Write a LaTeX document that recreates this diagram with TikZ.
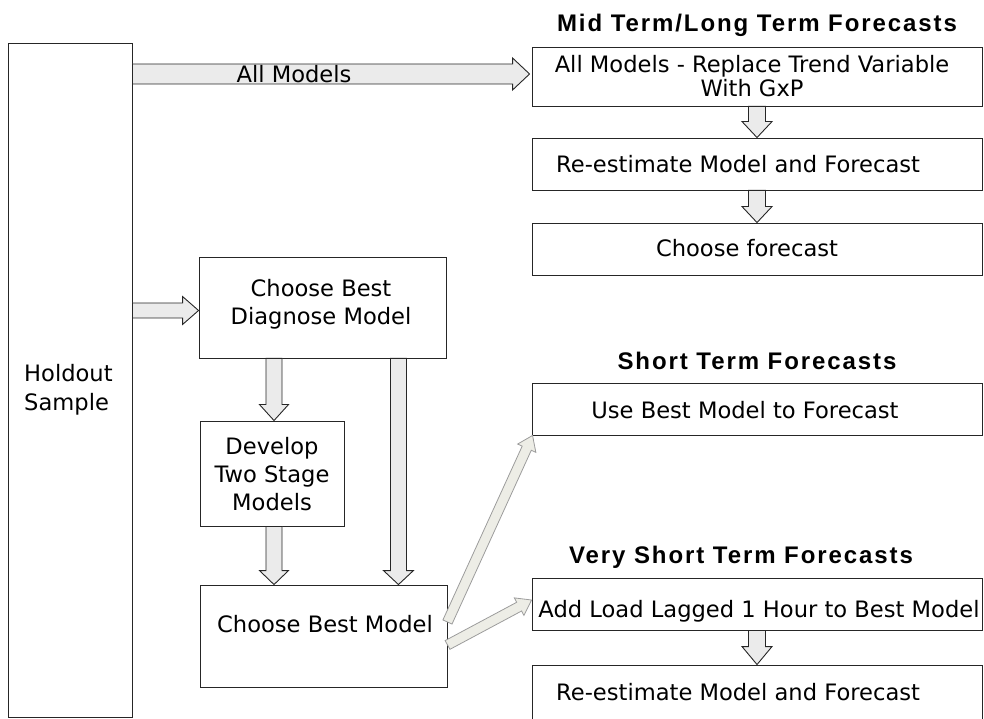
\documentclass[tikz,border=0pt]{standalone}
\usepackage{fontspec}
\setmainfont{DejaVu Sans}
\newfontfamily\headfont{Liberation Sans}[LetterSpace=8]
\usetikzlibrary{calc}
\definecolor{arrowfill}{HTML}{EBEBEB}
\definecolor{diagfill}{HTML}{EDEDE6}
\definecolor{diagline}{HTML}{9C9C9C}
\definecolor{boxline}{HTML}{262626}

% Block arrow from #2 to #3: shaft half width #4, head half width #5, head length #6
\newcommand\blockarrow[6][]{%
  \draw[#1] let \p1=(#2), \p2=(#3),
      \n1={atan2(\y2-\y1,\x2-\x1)}, \n2={veclen(\x2-\x1,\y2-\y1)} in
    (\p1) ++({\n1+90}:#4) -- ++({\n1}:{\n2-#6}) -- ++({\n1+90}:{#5-#4})
    -- (\p2)
    -- ($(\p2)+({\n1+180}:#6)+({\n1-90}:#5)$)
    -- ++({\n1+90}:{#5-#4}) -- ++({\n1+180}:{\n2-#6}) -- cycle;}

\tikzset{
  box/.style={draw=boxline, line width=0.9pt, inner sep=0pt},
  txt/.style={font=\fontsize{22.6}{28}\selectfont, inner sep=0pt, anchor=base, align=center},
  head/.style={font=\headfont\bfseries\fontsize{24}{28}\selectfont, inner sep=0pt, anchor=base},
  blk/.style={draw=boxline, line width=0.9pt, fill=arrowfill, line join=miter},
  slim/.style={draw=diagline, line width=0.8pt, fill=diagfill, line join=miter}
}

\begin{document}
\begin{tikzpicture}[x=1pt,y=1pt]
\useasboundingbox (0,0) rectangle (984,718);

% left column
\node[box, minimum width=124pt, minimum height=674pt] (hold) at (70,338) {};
\node[box, minimum width=247pt, minimum height=101pt] (diag) at (322.5,410.5) {};
\node[box, minimum width=144pt, minimum height=105pt] (dev) at (272,244.5) {};
\node[box, minimum width=247pt, minimum height=102pt] (best) at (323.5,82) {};

% right column
\node[box, minimum width=450pt, minimum height=59pt] (b1) at (757,641.5) {};
\node[box, minimum width=450pt, minimum height=52pt] (b2) at (757,554) {};
\node[box, minimum width=450pt, minimum height=52pt] (b3) at (757,469) {};
\node[box, minimum width=450pt, minimum height=52pt] (b4) at (757,309) {};
\node[box, minimum width=450pt, minimum height=52pt] (b5) at (757,114) {};
\node[box, minimum width=450pt, minimum height=66pt] (b6) at (757,20) {};

% headings
\node[head] (hmid) at (757,686) {Mid Term/Long Term Forecasts};
\node[head] (hshort) at (757,348) {Short Term Forecasts};
\node[head] (hvery) at (741,155) {Very Short Term Forecasts};

% block arrows
\blockarrow[blk]{$(hold.east |- b1.west)+(0,2.5)$}{$(b1.west)+(-2,2.5)$}{10}{16}{17}
\blockarrow[blk]{$(hold.east |- diag.west)+(0,-3)$}{$(diag.west)+(0,-3)$}{7.5}{14}{16}
\blockarrow[blk]{$(diag.south -| dev.north)+(2,0)$}{$(dev.north)+(2,0)$}{8}{14.5}{16}
\blockarrow[blk]{$(diag.south east)+(-48,0)$}{$(best.north east)+(-49,0)$}{8}{15}{14}
\blockarrow[blk]{$(dev.south)+(2,0)$}{$(best.north -| dev.south)+(2,0)$}{8}{14.5}{14}
\blockarrow[blk]{b1.south}{b2.north}{8.5}{15}{16}
\blockarrow[blk]{b2.south}{b3.north}{8.5}{15}{16}
\blockarrow[blk]{b5.south}{$(b6.north)+(0,0)$}{8.5}{15}{18}
\blockarrow[slim]{$(best.east)+(0,14)$}{$(b4.south west)+(1,0)$}{5}{10}{14}
\blockarrow[slim]{$(best.east)+(0,-9)$}{$(b5.west)+(0,4)$}{5}{10}{14}

% texts (multi-line texts are placed by the baseline of their last line)
\node[txt, anchor=base west, align=left] (holdt) at (24,308) {Holdout\\Sample};
\node[txt] (allt) at (294,635) {All Models};
\node[txt] (diagt) at (321,393) {Choose Best\\Diagnose Model};
\node[txt] (devt) at (272,208) {Develop\\Two Stage\\Models};
\node[txt] (bestt) at (325,86) {Choose Best Model};
\node[txt] (b1t) at (752,621) {All Models - Replace Trend Variable\\[-4pt]With GxP};
\node[txt, anchor=base west] (b2t) at (556,545) {Re-estimate Model and Forecast};
\node[txt] (b3t) at (747,461) {Choose forecast};
\node[txt] (b4t) at (745,300) {Use Best Model to Forecast};
\node[txt] (b5t) at (759,101) {Add Load Lagged 1 Hour to Best Model};
\node[txt, anchor=base west] (b6t) at (556,18) {Re-estimate Model and Forecast};
\end{tikzpicture}
\end{document}
